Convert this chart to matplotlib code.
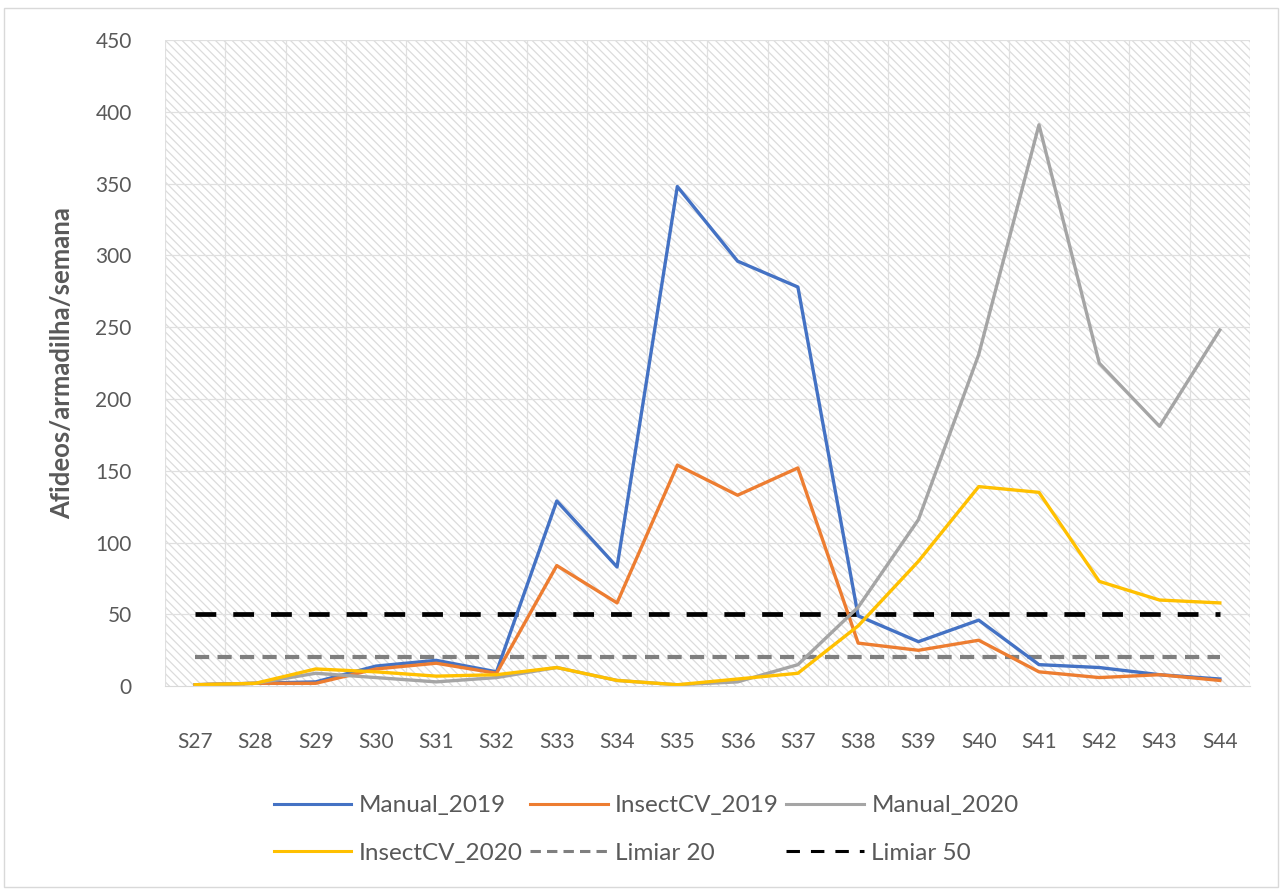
import numpy as np
import matplotlib.pyplot as plt
from matplotlib.patches import Rectangle

plt.rcParams['font.family'] = ['Lato', 'DejaVu Sans']
plt.rcParams['hatch.linewidth'] = 0.9
plt.rcParams['hatch.color'] = '#dcdcdc'

semanas = ['S27', 'S28', 'S29', 'S30', 'S31', 'S32', 'S33', 'S34', 'S35',
           'S36', 'S37', 'S38', 'S39', 'S40', 'S41', 'S42', 'S43', 'S44']

manual_2019 = [1, 2, 3, 14, 18, 10, 129, 83, 348, 296, 278, 49, 31, 46, 15, 13, 8, 5]
insectcv_2019 = [1, 2, 2, 12, 16, 9, 84, 58, 154, 133, 152, 30, 25, 32, 10, 6, 8, 4]
manual_2020 = [1, 2, 9, 6, 3, 6, 13, 4, 1, 3, 15, 55, 116, 231, 391, 225, 181, 248]
insectcv_2020 = [1, 2, 12, 10, 7, 8, 13, 4, 1, 5, 9, 42, 87, 139, 135, 73, 60, 58]
limiar_20 = [20] * len(semanas)
limiar_50 = [50] * len(semanas)

x = np.arange(len(semanas))

fig = plt.figure(figsize=(12.82, 8.90), dpi=100)
ax = fig.add_axes([0.1287, 0.229, 0.8463, 0.726])

# moldura da figura
fig.patches.append(Rectangle((0.003, 0.003), 0.994, 0.988, transform=fig.transFigure,
                             fill=False, edgecolor='#d9d9d9', linewidth=1.0))

# fundo tracejado da area do grafico
ax.add_patch(Rectangle((-0.5, 0), 18, 450, facecolor='white', edgecolor='#dcdcdc',
                       hatch='\\\\\\\\', linewidth=0, zorder=0))

for b in np.arange(-0.5, 18, 1):
    ax.axvline(b, color='#e0e0e0', linewidth=0.9, zorder=1)
for v in range(50, 451, 50):
    ax.axhline(v, color='#e0e0e0', linewidth=0.9, zorder=1)

ax.plot(x, limiar_20, color='#7f7f7f', linewidth=3, linestyle=(0, (3.4, 2.0)),
        label='Limiar 20', zorder=2)
ax.plot(x, limiar_50, color='black', linewidth=3.4, linestyle=(0, (4.4, 3.6)),
        label='Limiar 50', zorder=2)
ax.plot(x, manual_2019, color='#4472C4', linewidth=2.4, label='Manual_2019', zorder=3)
ax.plot(x, insectcv_2019, color='#ED7D31', linewidth=2.4, label='InsectCV_2019', zorder=3)
ax.plot(x, manual_2020, color='#A5A5A5', linewidth=2.4, label='Manual_2020', zorder=3)
ax.plot(x, insectcv_2020, color='#FFC000', linewidth=2.4, label='InsectCV_2020', zorder=3)

ax.set_xlim(-0.5, 17.5)
ax.set_ylim(0, 450)
ax.set_yticks(range(0, 451, 50))
ax.set_xticks(x)
ax.set_xticklabels(semanas)

for s in ['top', 'right', 'left']:
    ax.spines[s].set_visible(False)
ax.spines['bottom'].set_color('#d9d9d9')
ax.spines['bottom'].set_zorder(4)
ax.tick_params(axis='both', length=0, labelsize=15, labelcolor='#595959')
ax.tick_params(axis='x', pad=33)
ax.tick_params(axis='y', pad=24)

ax.set_ylabel('Afideos/armadilha/semana', fontsize=18.5, fontweight='bold',
              color='#595959', labelpad=15)

handles, labels = ax.get_legend_handles_labels()
hd = dict(zip(labels, handles))
ordem = ['Manual_2019', 'InsectCV_2020', 'InsectCV_2019', 'Limiar 20',
         'Manual_2020', 'Limiar 50']
leg = fig.legend([hd[k] for k in ordem], ordem, ncol=3, loc='center',
                 bbox_to_anchor=(0.504, 0.068), frameon=False, fontsize=17.5,
                 handlelength=3.2, handletextpad=0.3, columnspacing=0.3,
                 labelspacing=1.1)
for t in leg.get_texts():
    t.set_color('#595959')
for h in leg.get_lines():
    h.set_linewidth(2.2)

fig.savefig('out.png', dpi=100)
